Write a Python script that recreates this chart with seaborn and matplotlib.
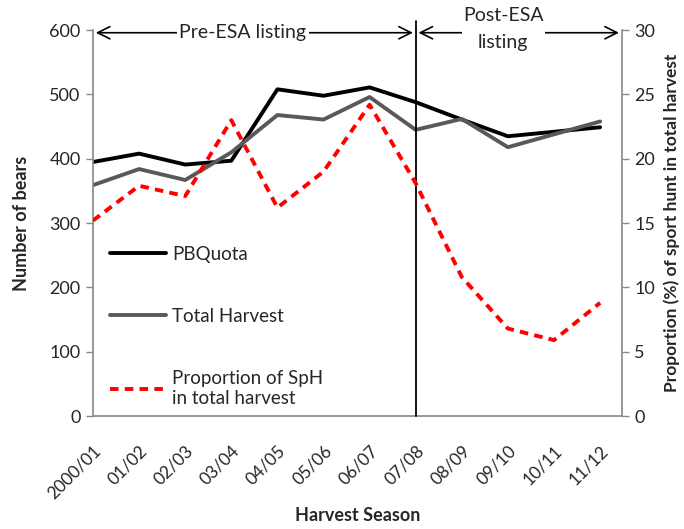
import matplotlib
matplotlib.use("Agg")
import matplotlib.pyplot as plt
import numpy as np
import pandas as pd
import seaborn as sns

seasons = ["2000/01", "01/02", "02/03", "03/04", "04/05", "05/06",
           "06/07", "07/08", "08/09", "09/10", "10/11", "11/12"]
pb_quota = [395, 408, 391, 397, 508, 498, 511, 488, 461, 435, 442, 449]
total_harvest = [359, 384, 367, 410, 468, 461, 496, 445, 462, 418, 438, 458]
sph_share = [15.2, 17.9, 17.1, 23.0, 16.2, 19.0, 24.2, 18.1, 10.8, 6.8, 5.9, 8.8]

sns.set_style("white")
plt.rcParams["font.family"] = ["Lato", "DejaVu Sans"]

df = pd.DataFrame({
    "idx": np.arange(len(seasons)),
    "PBQuota": pb_quota,
    "Total Harvest": total_harvest,
    "SpH": sph_share,
})

fig = plt.figure(figsize=(6.84, 5.29), dpi=100)
ax = fig.add_axes([0.136, 0.2136, 0.773, 0.7294])
ax2 = ax.twinx()

sns.lineplot(data=df, x="idx", y="PBQuota", ax=ax, color="black", lw=2.8,
             label="PBQuota", legend=False)
sns.lineplot(data=df, x="idx", y="Total Harvest", ax=ax, color="#595959", lw=2.8,
             label="Total Harvest", legend=False)
sns.lineplot(data=df, x="idx", y="SpH", ax=ax2, color="red", lw=2.8,
             linestyle=(0, (2.2, 1.6)), label="Proportion of SpH\nin total harvest",
             legend=False)

ax.set_xlim(0, len(seasons) - 1 + 0.47)
ax.set_ylim(0, 600)
ax2.set_ylim(0, 30)
ax.set_yticks(range(0, 601, 100))
ax2.set_yticks(range(0, 31, 5))
ax.set_xticks(df["idx"])
ax.set_xticklabels(seasons, rotation=45, ha="right", rotation_mode="anchor")

for a in (ax, ax2):
    for s in a.spines.values():
        s.set_visible(False)
    a.tick_params(length=5, width=1, color="#888888", labelsize=13, pad=4)
ax.spines["left"].set_visible(True)
ax.spines["bottom"].set_visible(True)
ax2.spines["right"].set_visible(True)
for s in (ax.spines["left"], ax.spines["bottom"], ax2.spines["right"]):
    s.set_color("#888888")
    s.set_linewidth(1.2)
ax.tick_params(axis="x", labelsize=12.5, pad=14)

ax.set_xlabel("Harvest Season", fontsize=13, fontweight="bold", labelpad=4)
ax.set_ylabel("Number of bears", fontsize=13, fontweight="bold", labelpad=14)
ax2.set_ylabel("Proportion (%) of sport hunt in total harvest", fontsize=12.5,
               fontweight="bold", labelpad=6)

# listing boundary and period arrows
ax.plot([7, 7], [0, 614], color="black", lw=1.3, clip_on=False, zorder=5)
arrow = dict(arrowstyle="<->", color="black", lw=1.2, mutation_scale=22)
ax.annotate("", xy=(0, 596), xytext=(7, 596), arrowprops=arrow,
            annotation_clip=False)
ax.annotate("", xy=(7, 596), xytext=(11.47, 596), arrowprops=arrow,
            annotation_clip=False)
ax.text(3.25, 597, "Pre-ESA listing", ha="center", va="center", fontsize=14,
        bbox=dict(facecolor="white", edgecolor="none", pad=2), zorder=6)
ax.text(8.9, 602, "Post-ESA\nlisting", ha="center", va="center", fontsize=14,
        linespacing=1.75, bbox=dict(facecolor="white", edgecolor="none", pad=1),
        zorder=6, clip_on=False)

h1, l1 = ax.get_legend_handles_labels()
h2, l2 = ax2.get_legend_handles_labels()
leg = ax2.legend(h1 + h2, l1 + l2, loc="upper left", bbox_to_anchor=(0.0, 0.485),
                 frameon=False, fontsize=13.5, handlelength=3.0, handletextpad=0.3,
                 labelspacing=2.4)

fig.savefig("out.png", dpi=100)
